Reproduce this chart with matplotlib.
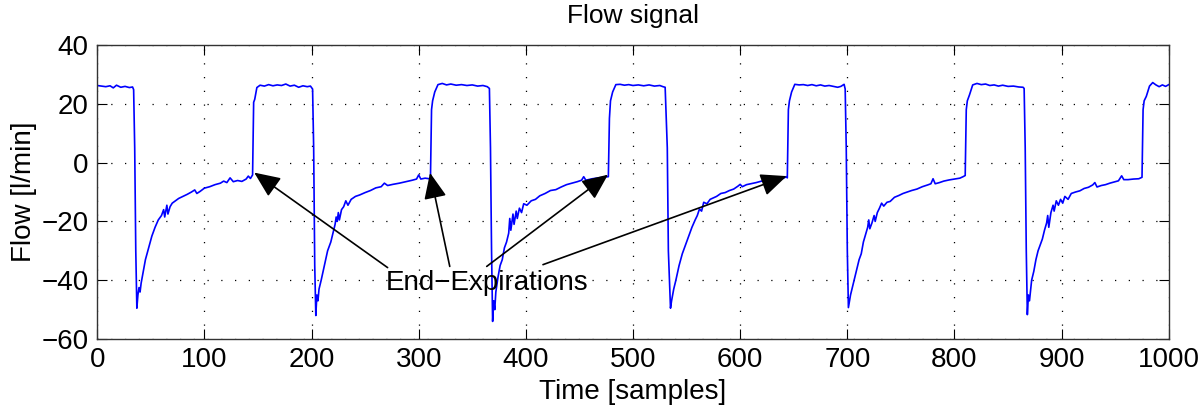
import matplotlib
matplotlib.use('Agg')
import matplotlib.pyplot as plt

plt.rcParams['font.family'] = ['Liberation Sans', 'DejaVu Sans']

# flow signal (sample index, flow in l/min)
samples = [0, 4, 8, 12, 15, 18, 22, 26, 30, 33, 34, 35, 36, 37, 38, 39, 40, 41, 43, 45, 48, 51, 54, 57, 60, 62, 63, 65, 66, 68,
           70, 73, 76, 80, 84, 88, 91, 93, 96, 100, 105, 110, 115, 118, 121, 124, 127, 131, 135, 139, 141, 143, 145, 146, 147, 149,
           152, 156, 160, 164, 168, 172, 176, 180, 184, 188, 192, 196, 199, 201, 202, 203, 204, 205, 206, 207, 209, 212, 215, 218,
           220, 222, 223, 224, 225, 226, 228, 230, 232, 234, 237, 241, 245, 250, 255, 260, 265, 268, 271, 276, 282, 288, 294, 298,
           300, 302, 306, 310, 311, 312, 313, 315, 318, 322, 326, 330, 335, 340, 345, 350, 355, 360, 364, 366, 367, 368, 369, 370,
           371, 372, 374, 376, 378, 380, 382, 384, 385, 386, 388, 389, 391, 392, 394, 396, 398, 401, 405, 409, 413, 418, 423, 428,
           433, 438, 443, 448, 452, 454, 456, 462, 468, 473, 477, 478, 479, 481, 484, 488, 492, 496, 500, 505, 510, 515, 520, 525,
           528, 530, 532, 533, 535, 536, 538, 540, 543, 546, 549, 552, 555, 558, 560, 562, 564, 566, 569, 572, 575, 578, 582, 586,
           590, 594, 598, 600, 602, 606, 610, 615, 620, 625, 630, 635, 640, 643, 644, 645, 646, 648, 651, 655, 659, 663, 667, 671,
           675, 679, 683, 687, 691, 694, 697, 698, 699, 700, 701, 703, 705, 707, 709, 711, 713, 715, 717, 719, 720, 721, 723, 725,
           726, 728, 730, 732, 734, 737, 740, 744, 748, 752, 756, 760, 765, 770, 775, 778, 780, 782, 786, 790, 795, 800, 805, 808,
           810, 811, 812, 814, 817, 821, 825, 829, 833, 837, 841, 845, 850, 855, 860, 864, 865, 866, 867, 868, 869, 870, 872, 874,
           876, 878, 880, 882, 884, 886, 887, 888, 890, 892, 893, 895, 897, 899, 901, 903, 906, 909, 913, 917, 921, 925, 929, 931,
           933, 937, 941, 945, 949, 953, 956, 958, 962, 967, 972, 975, 976, 977, 979, 982, 985, 988, 991, 994, 997, 1000]
flow = [26.2, 26.0, 25.8, 26.1, 25.4, 26.3, 25.6, 25.9, 25.5, 25.7, 24.8, 5, -30, -49.5, -45, -42.5, -44, -41, -37, -33, -29, -25, -22, -19.5, -18, -16, -18.5, -14.5, -17.5, -15,
        -13.8, -13, -12.2, -11.5, -10.8, -10, -9.3, -10.5, -9.8, -8.7, -8.2, -7.5, -7, -6.3, -6.8, -5.2, -6.5, -6.1, -6.4, -5.6, -4.6, -5.4, -4.2, 20.5, 21.5, 25.5,
        26.3, 26.0, 26.5, 26.1, 26.4, 26.2, 26.7, 26.0, 26.3, 25.6, 26.1, 25.8, 26.0, 25.0, 5, -35, -52, -45, -47, -43, -40, -35, -30, -27,
        -24, -21, -18.5, -20, -17, -19.5, -16, -15, -13, -14.5, -12.5, -11.5, -11, -10.2, -9.5, -8.6, -8.2, -7, -7.8, -7.4, -7, -6.5, -6, -5.6,
        -4.2, -5.6, -5.3, -5.5, -5.2, 18, 21, 24, 26.5, 26.9, 26.4, 26.7, 26.3, 26.5, 26.2, 26.4, 26.0, 26.2, 25.8, 25.2, 5, -30, -54, -47,
        -50, -44, -39, -35, -33, -29, -27, -24, -19, -23, -17.5, -21, -16.5, -19, -15.5, -17, -14, -14.5, -13, -12.5, -11.3, -10.5, -9.5, -9.2,
        -8.3, -7.5, -7, -6.5, -6, -4.8, -6, -5.5, -5.2, -4.9, -4.8, 15, 21, 24, 26.5, 26.6, 26.3, 26.5, 26.2, 26.4, 26.1, 26.4, 26.0, 26.2,
        25.8, 25.6, 5, -30, -49.5, -47, -43, -40, -35, -31, -28, -25, -22, -19.5, -18, -15.8, -16.5, -13.5, -14, -12.5, -12, -11.5, -10.5, -10.2,
        -9.5, -9, -8, -7.4, -8.2, -7.5, -7.2, -6.8, -6.3, -5.9, -5.8, -5.5, -5.4, -4.8, -5.2, 18, 21, 24, 26.6, 26.4, 26.5, 26.2, 26.5, 26.1,
        26.4, 26.0, 26.2, 25.9, 25.6, 25.9, 26.6, 25.0, 5, -30, -49.3, -45, -42, -39, -36, -33, -31, -27, -24.5, -22, -19.5, -22.5, -20.5, -18,
        -20, -17, -15.5, -13.8, -14.8, -13.5, -13.2, -11.8, -11.2, -10.5, -10, -9.5, -9, -8.2, -7.6, -7.2, -5.5, -7.2, -6.8, -6.3, -5.9, -5.6, -5.3, -4.8,
        -4.4, 18, 21, 23, 26.4, 26.9, 26.5, 26.7, 26.2, 26.4, 26.0, 26.3, 25.9, 26.0, 25.7, 25.6, 25.2, 5, -30, -51.7, -45, -47, -40, -37,
        -33, -30, -28, -26, -23, -20.5, -18, -22, -17, -14.5, -16.5, -13, -14.5, -12.5, -13.8, -11.5, -12.5, -10.5, -10, -9.6, -8.8, -8.4, -7.6, -6.8,
        -8.3, -7.8, -7.5, -7, -6.6, -6.2, -4.5, -5.8, -5.8, -5.6, -5.5, -5.0, 18, 21, 22.5, 26, 27.2, 26.4, 25.8, 26.4, 25.9, 26.5]

# annotation: label position, arrow tails and arrow tips
label_text = 'End\u2212Expirations'
label_pos = (364, -41)
arrow_tails = [(271, -35.7), (329, -35.3), (363.5, -35.3), (416, -34.7)]
arrow_tips = [(146.5, -3.4), (310.6, -3.5), (476.7, -4.1), (643.4, -4.6)]

fig = plt.figure(figsize=(12, 4.12), dpi=100)
ax = fig.add_axes([0.081, 0.177, 0.893, 0.714])

ax.plot(samples, flow, color='#0000ff', lw=1.2)

ax.set_xlim(0, 1000)
ax.set_ylim(-60, 40)
ax.set_xticks(range(0, 1001, 100))
ax.set_yticks(range(-60, 41, 20))
ax.grid(True, color='k', linestyle=(0, (1, 10)), lw=0.9)
ax.tick_params(direction='in', top=True, right=True, length=7, width=0.8,
               labelsize=20, pad=6)
for s in ax.spines.values():
    s.set_linewidth(1.0)
    s.set_color('#333333')

ax.set_title('Flow signal', fontsize=19, pad=16)
ax.set_xlabel('Time [samples]', fontsize=20, labelpad=4)
ax.set_ylabel('Flow [l/min]', fontsize=20, labelpad=3)

ax.text(label_pos[0], label_pos[1], label_text, fontsize=20,
        ha='center', va='center')
for tail, tip in zip(arrow_tails, arrow_tips):
    ax.annotate('', xy=tip, xytext=tail,
                arrowprops=dict(arrowstyle='-|>,head_length=0.8,head_width=0.35',
                                color='k', lw=1.2, mutation_scale=20,
                                shrinkA=0, shrinkB=0))

fig.savefig('out.png', dpi=100)
